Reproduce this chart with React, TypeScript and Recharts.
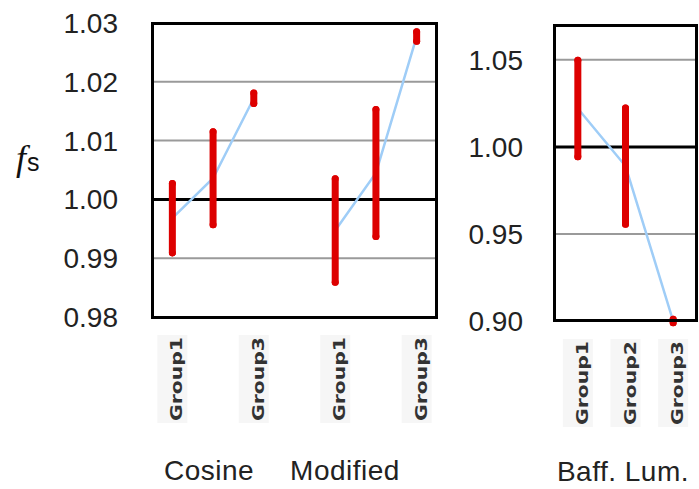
import React from 'react';
import {
  ComposedChart,
  Line,
  ErrorBar,
  XAxis,
  YAxis,
  CartesianGrid,
  ReferenceLine,
} from 'recharts';

// left panel: Cosine + Modified, 4th slot is an empty spacer
const leftCats = ['Group1', 'Group2', 'Group3', '', 'Group1', 'Group2', 'Group3'];
const leftMeans = [0.9968, 1.0036, 1.0172, null, 0.9947, 1.0045, 1.0277];
const leftErrs = [0.0059, 0.0079, 0.0009, null, 0.0088, 0.0108, 0.0008];
const leftTicks = [0.98, 0.99, 1.0, 1.01, 1.02, 1.03];
const leftShown = [0, 2, 4, 6]; // Group2 labels were skipped in the original

// right panel: Baff. Lum.
const rightCats = ['Group1', 'Group2', 'Group3'];
const rightMeans = [1.022, 0.989, 0.9];
const rightErrs = [0.0277, 0.0334, 0.001];
const rightTicks = [0.9, 0.95, 1.0, 1.05];

const groupLabels = ['Cosine', 'Modified', 'Baff. Lum.'];

const leftData = leftCats.map((c, i) => ({ cat: c + '_' + i, name: c, mean: leftMeans[i], err: leftErrs[i] }));
const rightData = rightCats.map((c, i) => ({ cat: c, name: c, mean: rightMeans[i], err: rightErrs[i] }));

const FONT = '"Liberation Sans", Arial, sans-serif';
const BLUE = '#9fcdf7';
const RED = '#dd0000';

function makeTick(data: { name: string }[], shown: number[] | null) {
  return function GroupTick(props: any) {
    const { x, y, index } = props;
    if (shown && !shown.includes(index)) return null;
    const label = data[index]?.name;
    if (!label) return null;
    return (
      <g transform={`translate(${x},${y + 16})`}>
        <rect x={-15} y={0} width={30} height={88} fill="#f6f6f6" />
        <text
          transform="rotate(-90)"
          x={-2}
          y={10}
          textAnchor="end"
          fontFamily='"DejaVu Sans", sans-serif'
          fontWeight="bold"
          fontSize={15}
          fill="#333"
          textLength={84}
          lengthAdjust="spacingAndGlyphs"
        >
          {label}
        </text>
      </g>
    );
  };
}

const tickStyle = { fontFamily: FONT, fontSize: 28, fill: '#222' };

function Frame({ left, top, width, height }: { left: number; top: number; width: number; height: number }) {
  return (
    <div
      style={{
        position: 'absolute',
        left,
        top,
        width,
        height,
        border: '3px solid #000',
        boxSizing: 'border-box',
        pointerEvents: 'none',
      }}
    />
  );
}

// blue connecting line first, red error bars drawn afterwards so they sit on top
function Series() {
  return [
    <Line key="ln" dataKey="mean" stroke={BLUE} strokeWidth={2.5} dot={false} isAnimationActive={false} />,
    <Line key="eb" dataKey="mean" stroke="none" dot={false} legendType="none" isAnimationActive={false}>
      <ErrorBar dataKey="err" direction="y" width={0} stroke={RED} strokeWidth={7} strokeLinecap="round" />
    </Line>,
  ];
}

export default function App() {
  return (
    <div style={{ position: 'absolute', left: 0, top: 0, width: 699, height: 489, background: '#fff' }}>
      <div style={{ position: 'absolute', left: 0, top: 0 }}>
        <ComposedChart width={445} height={489} data={leftData} margin={{ top: 23, right: 8, bottom: 0, left: 0 }}>
          <CartesianGrid vertical={false} stroke="#9a9a9a" strokeWidth={2} />
          <XAxis
            dataKey="cat"
            scale="band"
            height={172}
            axisLine={false}
            tickLine={false}
            tickSize={0}
            interval={0}
            tick={makeTick(leftData, leftShown)}
          />
          <YAxis
            width={152}
            domain={[0.98, 1.03]}
            ticks={leftTicks}
            tickFormatter={(v: number) => v.toFixed(2)}
            axisLine={false}
            tickLine={false}
            tickSize={0}
            tickMargin={34}
            tick={tickStyle}
            allowDataOverflow
          />
          <ReferenceLine y={1} stroke="#000" strokeWidth={3} />
          {Series()}
        </ComposedChart>
      </div>
      <Frame left={151} top={22} width={287} height={297} />

      <div style={{ position: 'absolute', left: 450, top: 0 }}>
        <ComposedChart width={249} height={489} data={rightData} margin={{ top: 25, right: 2, bottom: 0, left: 0 }}>
          <CartesianGrid vertical={false} stroke="#9a9a9a" strokeWidth={2} />
          <XAxis
            dataKey="cat"
            scale="band"
            height={168}
            axisLine={false}
            tickLine={false}
            tickSize={0}
            interval={0}
            tick={makeTick(rightData, null)}
          />
          <YAxis
            width={104}
            domain={[0.9, 1.07]}
            ticks={rightTicks}
            tickFormatter={(v: number) => v.toFixed(2)}
            axisLine={false}
            tickLine={false}
            tickSize={0}
            tickMargin={31}
            tick={tickStyle}
            allowDataOverflow
          />
          <ReferenceLine y={1} stroke="#000" strokeWidth={3} />
          {Series()}
        </ComposedChart>
      </div>
      <Frame left={553} top={24} width={145} height={298} />

      {/* y-axis title */}
      <div style={{ position: 'absolute', left: 16, top: 136, fontSize: 36, lineHeight: '44px', color: '#111' }}>
        <span style={{ fontFamily: '"Liberation Serif", serif', fontStyle: 'italic' }}>f</span>
        <span style={{ fontFamily: FONT, fontSize: 25, position: 'relative', top: 1, marginLeft: 1 }}>s</span>
      </div>

      {/* group labels */}
      {[
        { text: groupLabels[0], cx: 209, top: 455 },
        { text: groupLabels[1], cx: 345, top: 455 },
        { text: groupLabels[2], cx: 623, top: 456 },
      ].map((g) => (
        <div
          key={g.text}
          style={{
            position: 'absolute',
            left: g.cx - 100,
            top: g.top,
            width: 200,
            textAlign: 'center',
            fontFamily: FONT,
            fontSize: 28,
            letterSpacing: 0.5,
            lineHeight: '32px',
            color: '#222',
          }}
        >
          {g.text}
        </div>
      ))}
    </div>
  );
}
